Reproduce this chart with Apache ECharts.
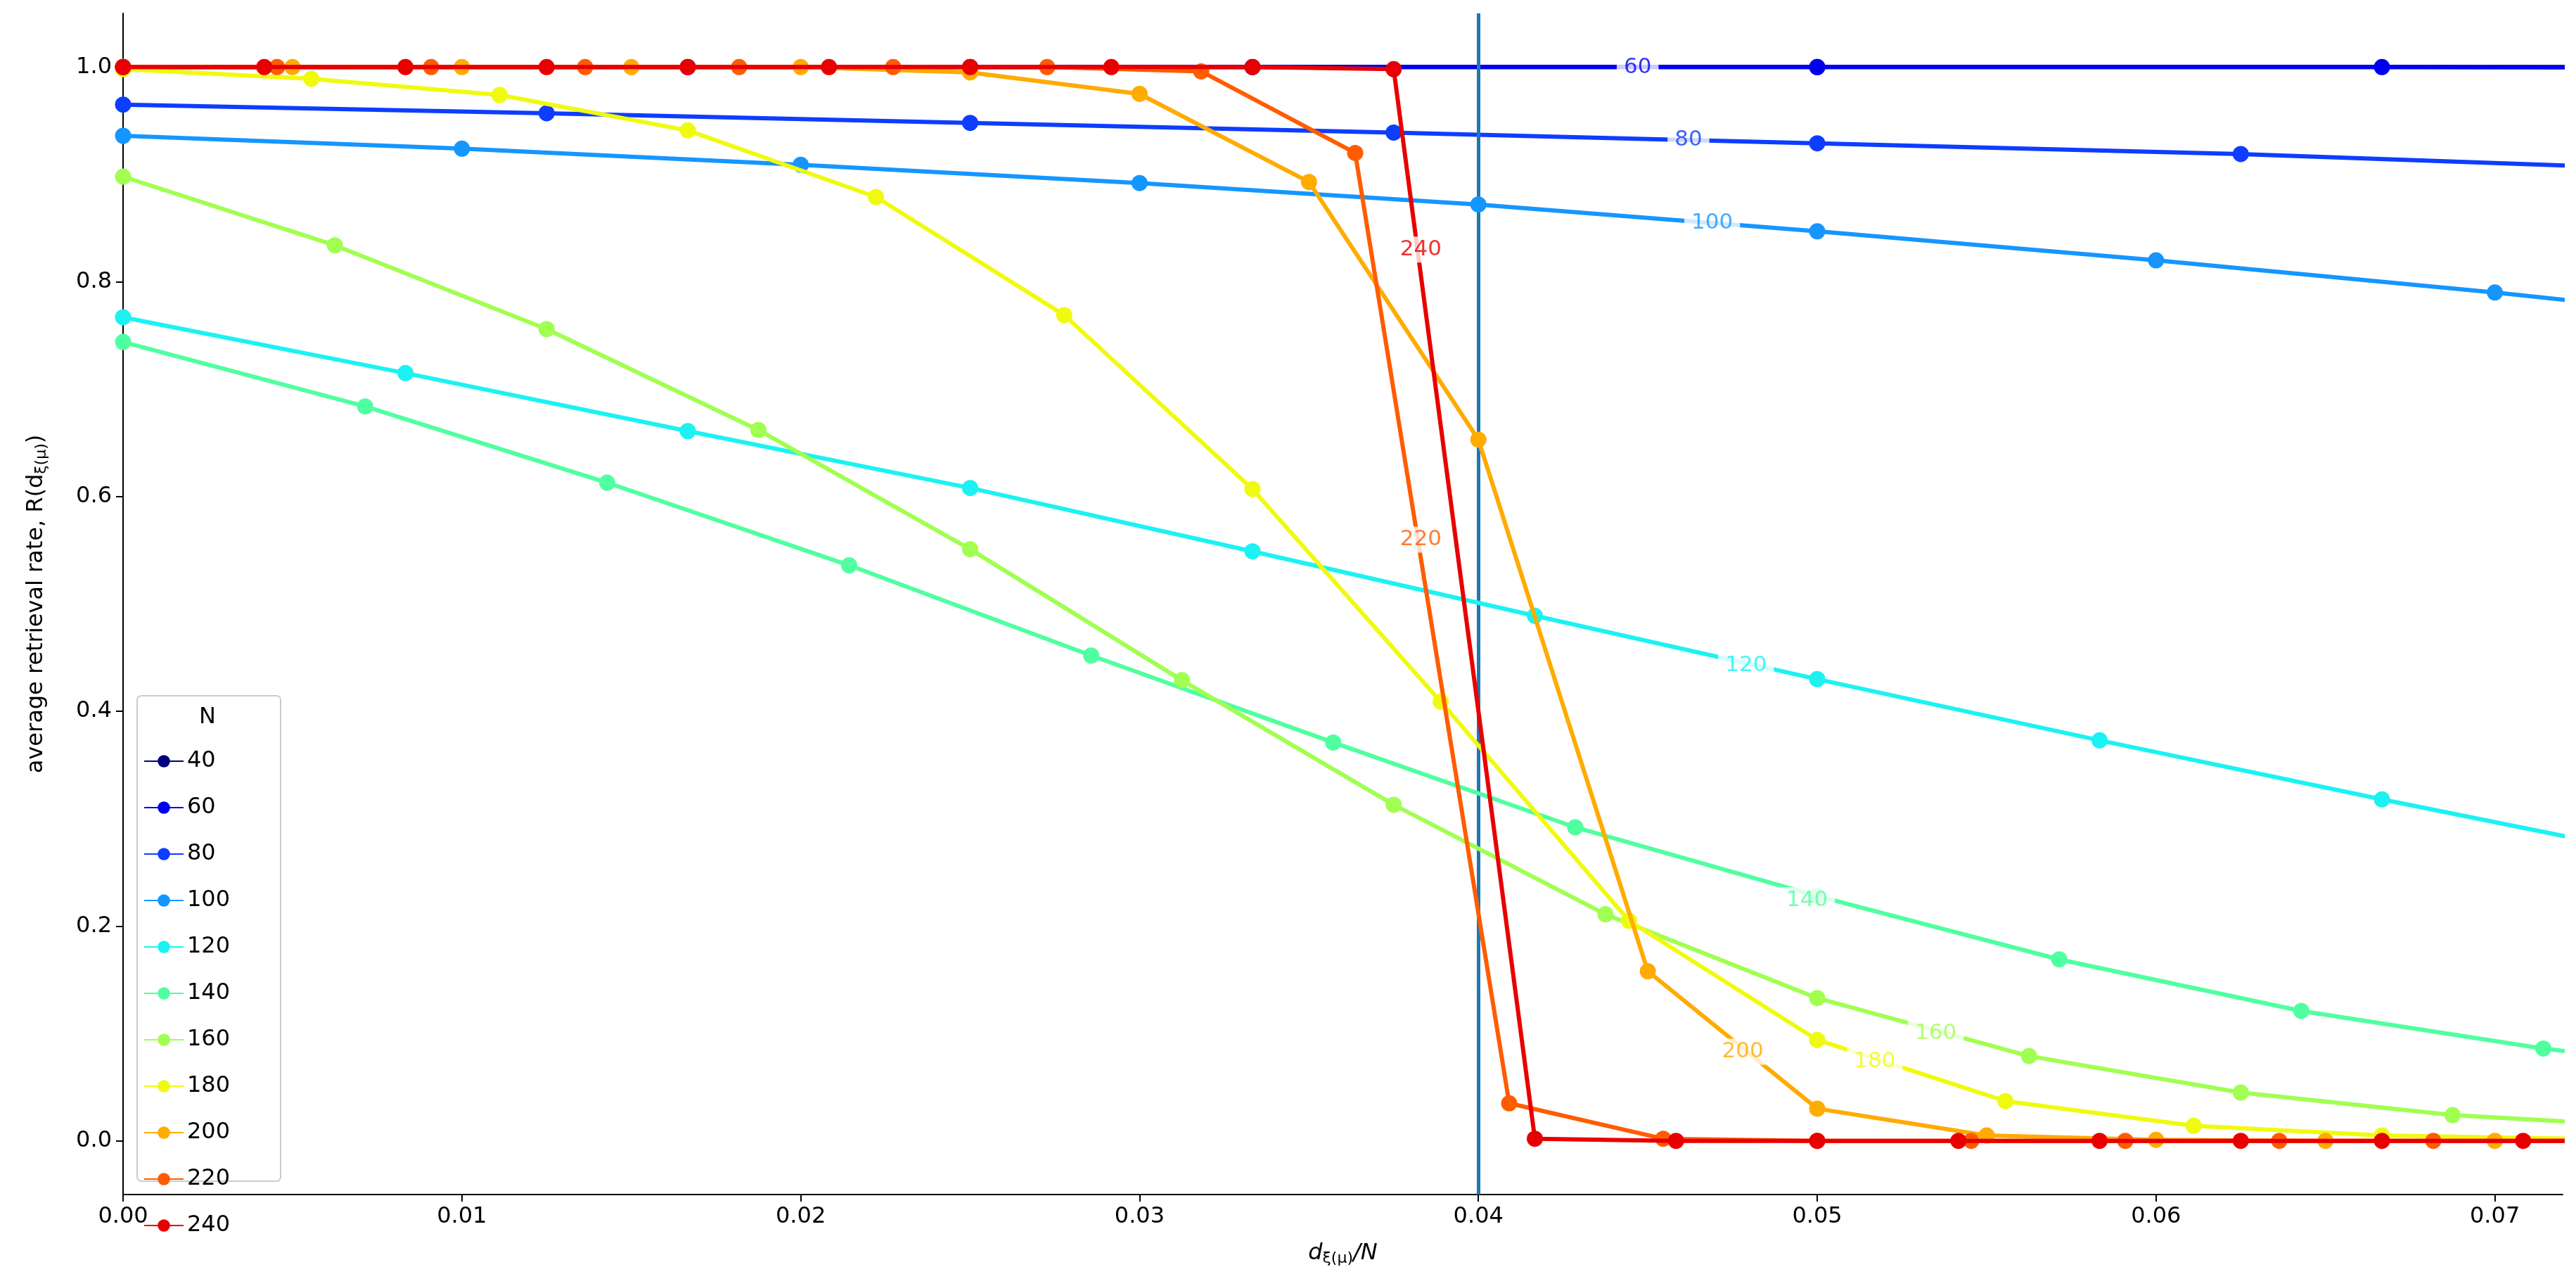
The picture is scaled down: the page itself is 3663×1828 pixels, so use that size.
<!DOCTYPE html>
<html><head><meta charset="utf-8">
<script src="https://cdn.jsdelivr.net/npm/echarts@6/dist/echarts.min.js"></script>
<style>html,body{margin:0;background:#fff}#c{width:3663px;height:1828px}</style>
</head><body><div id="c"></div>
<script>
// N values and colours (jet)
var Ns = [40, 60, 80, 100, 120, 140, 160, 180, 200, 220, 240];
var colors = ['#000080', '#0000f1', '#0d3dff', '#1596ff', '#1cf2f2', '#50ffa0', '#a0ff50', '#f0fa0f', '#ffab00', '#ff5c00', '#e80000'];
// retrieval rate at d = 0,1,2,... (x = d/N)
var rate40 = [1, 1, 1, 1];
var rate60 = [1, 1, 1, 1, 1, 0.999];
var rate80 = [0.965, 0.957, 0.948, 0.939, 0.929, 0.919, 0.905];
var rate100 = [0.936, 0.924, 0.909, 0.892, 0.872, 0.847, 0.820, 0.790, 0.757];
var rate120 = [0.767, 0.715, 0.661, 0.608, 0.549, 0.489, 0.430, 0.373, 0.318, 0.265];
var rate140 = [0.744, 0.684, 0.613, 0.536, 0.452, 0.371, 0.292, 0.228, 0.169, 0.121, 0.086, 0.06];
var rate160 = [0.898, 0.834, 0.756, 0.662, 0.551, 0.429, 0.313, 0.211, 0.133, 0.079, 0.045, 0.024, 0.013];
var rate180 = [0.998, 0.989, 0.974, 0.941, 0.879, 0.769, 0.607, 0.409, 0.205, 0.094, 0.037, 0.014, 0.005, 0.002, 0.001];
var rate200 = [1, 1, 1, 1, 1, 0.995, 0.975, 0.893, 0.653, 0.158, 0.03, 0.005, 0.001, 0, 0, 0];
var rate220 = [1, 1, 1, 1, 1, 1, 1, 0.996, 0.92, 0.035, 0.002, 0, 0, 0, 0, 0, 0];
var rate240 = [1, 1, 1, 1, 1, 1, 1, 1, 1, 0.998, 0.002, 0, 0, 0, 0, 0, 0, 0, 0];
var rates = [rate40, rate60, rate80, rate100, rate120, rate140, rate160, rate180, rate200, rate220, rate240];
// x spacing in units of d per point (200 is sampled every 1/200 = 0.005)
var spacing = [1 / 40, 1 / 60, 1 / 80, 1 / 100, 1 / 120, 1 / 140, 1 / 160, 1 / 180, 1 / 200, 1 / 220, 1 / 240];
// inline labels: [x, y]
var inlineLabels = {
  60: [0.0447, 0.9995], 80: [0.0462, 0.932], 100: [0.0469, 0.855], 120: [0.0479, 0.443],
  140: [0.0497, 0.224], 160: [0.0535, 0.1], 180: [0.0517, 0.074], 200: [0.0478, 0.083],
  220: [0.0383, 0.56], 240: [0.0383, 0.83]
};
var yTicks = [0, 0.2, 0.4, 0.6, 0.8, 1.0];

var chart = echarts.init(document.getElementById('c'));
var series = Ns.map(function (n, i) {
  return {
    name: String(n), type: 'line', color: colors[i],
    data: rates[i].map(function (v, k) { return [k * spacing[i], v]; }),
    symbol: 'circle', symbolSize: 23, lineStyle: {width: 6}, clip: true,
    z: 2 + i
  };
});
// labels drawn over the lines with white background
Ns.forEach(function (n, i) {
  if (!inlineLabels[n]) return;
  series.push({
    type: 'scatter', symbolSize: 0, silent: true, z: 40,
    data: [inlineLabels[n]],
    label: {show: true, position: 'inside', formatter: String(n), color: colors[i], fontSize: 31,
      backgroundColor: '#fff', padding: [3, 10]}
  });
});
series.push({
  type: 'line', data: [], silent: true,
  markLine: {symbol: 'none', silent: true, label: {show: false},
    lineStyle: {color: '#1f77b4', width: 5, type: 'solid'}, data: [{xAxis: 0.04}]},
  z: 30
});

chart.setOption({
  animation: false,
  textStyle: {fontFamily: 'DejaVu Sans'},
  grid: {left: 175, right: 19, top: 19, bottom: 130},
  xAxis: {
    type: 'value', min: 0, max: 0.072, interval: 0.01,
    name: '{a|d}{s|ξ(μ)}{a|/N}', nameLocation: 'middle', nameGap: 66,
    nameTextStyle: {rich: {a: {fontSize: 32, color: '#000', fontStyle: 'italic'}, s: {fontSize: 22, color: '#000', padding: [14, 0, 0, 0]}}},
    axisLine: {onZero: false, lineStyle: {color: '#000', width: 2}},
    axisTick: {show: true, length: 10, lineStyle: {color: '#000', width: 2}},
    axisLabel: {fontSize: 32, color: '#000', margin: 16, showMaxLabel: false, formatter: function (v) { return v.toFixed(2); }},
    splitLine: {show: false}
  },
  yAxis: {
    type: 'value', min: -0.05, max: 1.05,
    name: '{a|average retrieval rate, R(d}{s|ξ(μ)}{a|)}', nameLocation: 'middle', nameGap: 105,
    nameTextStyle: {rich: {a: {fontSize: 32, color: '#000'}, s: {fontSize: 22, color: '#000', padding: [14, 0, 0, 0]}}},
    axisLine: {show: true, lineStyle: {color: '#000', width: 2}},
    axisTick: {show: true, length: 10, customValues: yTicks, lineStyle: {color: '#000', width: 2}},
    axisLabel: {fontSize: 32, color: '#000', margin: 16, customValues: yTicks, formatter: function (v) { return v.toFixed(1); }},
    splitLine: {show: false}
  },
  legend: {
    orient: 'vertical', left: 204, top: 1066, itemWidth: 56, itemHeight: 22, itemGap: 34,
    textStyle: {fontSize: 32, color: '#000'}, padding: 0, z: 60,
    data: Ns.map(String)
  },
  graphic: [
    {type: 'rect', left: 194, top: 988, z: 50, shape: {width: 204, height: 690, r: 6},
      style: {fill: '#fff', stroke: '#ccc', lineWidth: 2}},
    {type: 'text', left: 283, top: 1004, z: 55,
      style: {text: 'N', fontSize: 32, fill: '#000', fontFamily: 'DejaVu Sans'}}
  ],
  series: series
});
</script></body></html>
